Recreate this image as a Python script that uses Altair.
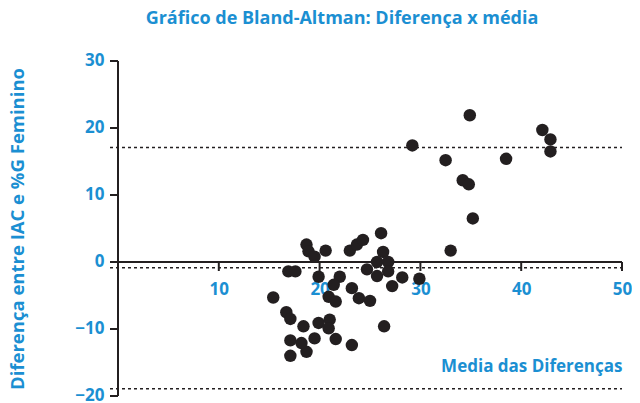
import altair as alt
import pandas as pd

# Bland-Altman points (mean, difference)
media = [34.9, 42.1, 42.9, 42.9, 29.2, 32.5, 38.5, 34.2, 34.8, 35.2, 33.0,
         18.7, 18.9, 19.5, 20.6, 23.0, 23.7, 24.3, 26.1, 26.3, 25.7, 26.8, 26.8, 24.7, 25.7, 27.2, 28.2, 29.9,
         16.9, 17.6, 19.9, 15.4,
         22.0, 21.4, 20.9, 21.6, 23.2, 23.9, 25.0,
         16.7, 17.1, 18.4, 19.9, 21.0, 20.9, 19.5, 17.1, 18.7, 17.1, 21.6, 23.2, 26.4, 18.2]
diferenca = [21.9, 19.7, 18.3, 16.5, 17.4, 15.2, 15.4, 12.2, 11.6, 6.5, 1.7,
             2.6, 1.6, 0.8, 1.7, 1.7, 2.6, 3.3, 4.3, 1.5, 0.0, 0.0, -1.4, -1.1, -2.1, -3.6, -2.3, -2.5,
             -1.4, -1.4, -2.2, -5.3,
             -2.2, -3.4, -5.2, -5.9, -3.9, -5.4, -5.8,
             -7.5, -8.5, -9.6, -9.1, -8.6, -9.9, -11.4, -11.7, -13.4, -14.0, -11.5, -12.4, -9.6, -12.1]

limites = [17.1, -0.85, -18.9]

x_ticks = [10, 20, 30, 40, 50]
y_ticks = [-20, -10, 0, 10, 20, 30]

BLUE = "#1b8fd2"
INK = "#231f20"
FONT = "Open Sans"

df = pd.DataFrame({"media": media, "dif": diferenca})
df_lim = pd.DataFrame({"lim": limites})
df_xt = pd.DataFrame({"xt": x_ticks})
df_yt = pd.DataFrame({"yt": y_ticks})

W, H = 504, 335
y0_px = H * 30 / 50  # pixel of y=0 from top

x_scale = alt.Scale(domain=[0, 50], nice=False, zero=False)
y_scale = alt.Scale(domain=[-20, 30], nice=False, zero=False)

x_axis = alt.Axis(values=x_ticks, orient="bottom", offset=-(H - y0_px),
                  domain=False, ticks=True, tickSize=9, tickOpacity=0,
                  title="Media das Diferenças", titleAnchor="end", titleAlign="right",
                  titleX=W, titleY=109, titleBaseline="alphabetic",
                  titleFontSize=17, titleColor=BLUE, titleFont=FONT, titleFontWeight="bold",
                  labelFontSize=17, labelColor=BLUE, labelFont=FONT, labelFontWeight="bold",
                  labelPadding=10, grid=False, labelFlush=False)
y_axis = alt.Axis(values=y_ticks, orient="left",
                  domain=False, ticks=True, tickSize=8, tickOpacity=0,
                  title="Diferença entre IAC e %G Feminino", titlePadding=47,
                  titleFontSize=18.5, titleColor=BLUE, titleFont=FONT, titleFontWeight="bold",
                  labelFontSize=17, labelColor=BLUE, labelFont=FONT, labelFontWeight="bold",
                  labelPadding=6, labelOffset=-1, grid=False, labelFlush=False)
hidden_axis = alt.Axis(labelOpacity=0, tickOpacity=0, domainOpacity=0, titleOpacity=0, grid=False)

points = alt.Chart(df).mark_circle(size=155, opacity=1, color=INK).encode(
    x=alt.X("media:Q", scale=x_scale, axis=x_axis),
    y=alt.Y("dif:Q", scale=y_scale, axis=y_axis),
)

rules = alt.Chart(df_lim).mark_rule(color=INK, strokeDash=[3, 3], strokeWidth=1.5).encode(
    y=alt.Y("lim:Q", scale=y_scale, axis=None),
    x=alt.value(-8),
    x2=alt.value(W),
)

# axis lines and ticks drawn through the shared scales
x_line = alt.Chart(df_xt).mark_rule(color=INK, strokeWidth=2).encode(
    x=alt.datum(0, scale=x_scale, axis=hidden_axis), x2=alt.datum(50),
    y=alt.datum(0, scale=y_scale, axis=None),
)
y_line = alt.Chart(df_yt).mark_rule(color=INK, strokeWidth=2).encode(
    x=alt.datum(0, scale=x_scale, axis=None),
    y=alt.datum(-20, scale=y_scale, axis=None), y2=alt.datum(30),
)
x_tick_marks = alt.Chart(df_xt).mark_rule(color=INK, strokeWidth=2, y2Offset=9).encode(
    x=alt.X("xt:Q", scale=x_scale, axis=None),
    y=alt.datum(0, scale=y_scale, axis=None), y2=alt.datum(0),
)
y_tick_marks = alt.Chart(df_yt).mark_rule(color=INK, strokeWidth=2, xOffset=-8).encode(
    y=alt.Y("yt:Q", scale=y_scale, axis=None),
    x=alt.datum(0, scale=x_scale, axis=None), x2=alt.datum(0),
)

chart = alt.layer(rules, x_line, y_line, x_tick_marks, y_tick_marks, points).resolve_axis(
    x="independent", y="independent"
).properties(
    width=W, height=H,
    title=alt.TitleParams("Gráfico de Bland-Altman: Diferença x média", anchor="middle",
                          dx=-28, fontSize=18, color=BLUE, font=FONT, fontWeight="bold",
                          baseline="alphabetic", offset=9),
    autosize=alt.AutoSizeParams(type="none"),
    padding={"left": 110, "top": 53, "right": 10, "bottom": 8},
).configure_view(stroke=None)

chart.save("out.html", embed_options={"renderer": "svg", "actions": False})
